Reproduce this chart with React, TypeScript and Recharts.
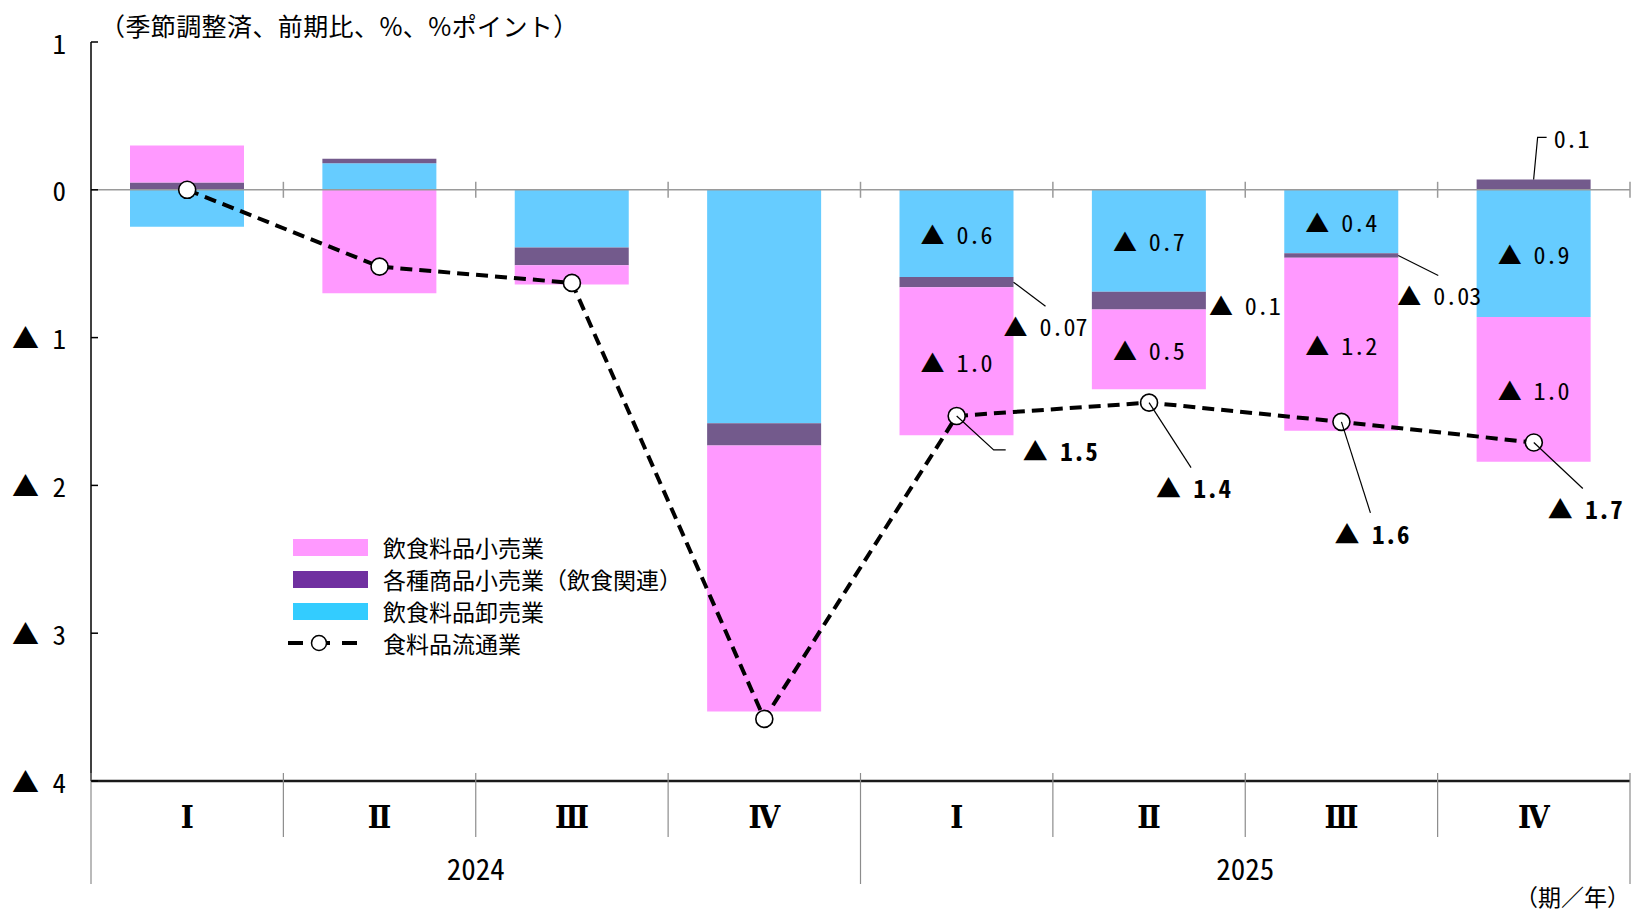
import React from "react";
import {
  Bar,
  ComposedChart,
  LabelList,
  Legend,
  Line,
  ReferenceLine,
  XAxis,
  YAxis,
} from "recharts";

// quarterly contributions, % points (negative = ▲)
const quarters = ["Ⅰ", "Ⅱ", "Ⅲ", "Ⅳ", "Ⅰ", "Ⅱ", "Ⅲ", "Ⅳ"];
const years = ["2024", "2024", "2024", "2024", "2025", "2025", "2025", "2025"];
const wholesale = [-0.25, 0.18, -0.39, -1.58, -0.59, -0.69, -0.43, -0.86];
const generalStores = [0.05, 0.03, -0.12, -0.15, -0.07, -0.12, -0.03, 0.07];
const retail = [0.25, -0.7, -0.13, -1.8, -1.0, -0.54, -1.17, -0.98];
const foodDistribution = [0.0, -0.52, -0.63, -3.58, -1.53, -1.44, -1.57, -1.71];
const generalDigits = [1, 1, 1, 1, 2, 1, 2, 1];
const yTicks = [1, 0, -1, -2, -3, -4];

const seriesNames = {
  retail: "飲食料品小売業",
  general: "各種商品小売業（飲食関連）",
  wholesale: "飲食料品卸売業",
  total: "食料品流通業",
};
const unitNote = "（季節調整済、前期比、%、%ポイント）";
const periodNote = "（期／年）";

// only the 2025 quarters carry value labels
const FIRST_LABELLED = 4;

const CHART_W = 1636;
const CHART_H = 915;
const AXIS_W = 91;
const AXIS_H = 134;
const MARGIN = { top: 42, right: 6, bottom: 0, left: 0 };
const BAND = (CHART_W - AXIS_W - MARGIN.right) / quarters.length;

const SANS = "'Noto Sans CJK JP', sans-serif";
const MONO = "'Noto Sans Mono CJK JP', 'Noto Sans CJK JP', monospace";
const ROMAN = "'DejaVu Serif Condensed', 'DejaVu Serif', serif";

const COLORS = {
  retail: "#FF99FF",
  general: "#735A8C",
  wholesale: "#66CCFF",
};
const LEGEND_COLORS = {
  retail: "#FF99FF",
  general: "#7030A0",
  wholesale: "#33CCFF",
};

const rows = quarters.map((q, i) => ({
  key: `${years[i]}-${q}`,
  wholesale: wholesale[i],
  general: generalStores[i],
  retail: retail[i],
  total: foodDistribution[i],
}));

type Pt = [number, number];
type Callout = { from?: "side" | "top"; path: Pt[]; text: Pt };

const generalCallouts: Record<number, Callout> = {
  4: { from: "side", path: [[0, 0], [32, 24]], text: [-10, 43] },
  5: { from: "side", path: [], text: [3, 4] },
  6: { from: "side", path: [[0, 0], [40, 20]], text: [-1, 39] },
  7: { from: "top", path: [[0, 0], [4, -42], [13, -42]], text: [20, -42] },
};

const totalCallouts: Record<number, Callout> = {
  4: { path: [[0, 0], [37, 34], [49, 34]], text: [66, 34] },
  5: { path: [[0, 0], [42, 65]], text: [7, 84] },
  6: { path: [[0, 0], [29, 91]], text: [-7, 111] },
  7: { path: [[0, 0], [49, 46]], text: [14, 65] },
};

function fmt(v: number, digits: number) {
  const s = Math.abs(v).toFixed(digits);
  return v < 0 ? `▲ ${s}` : s;
}

function boxOf(props: any) {
  const vb = props.viewBox ?? props;
  const x = Number(vb.x ?? props.x);
  const y = Number(vb.y ?? props.y);
  const w = Number(vb.width ?? props.width ?? 0);
  const h = Number(vb.height ?? props.height ?? 0);
  return { x, w, top: Math.min(y, y + h), bottom: Math.max(y, y + h) };
}

function leader(ax: number, ay: number, path: Pt[]) {
  if (path.length < 2) return null;
  const pts = path.map(([dx, dy]) => `${ax + dx},${ay + dy}`).join(" ");
  return <polyline points={pts} fill="none" stroke="#000" strokeWidth={1.2} />;
}

function CenteredLabel(props: any) {
  if (props.index < FIRST_LABELLED) return null;
  const b = boxOf(props);
  return (
    <text
      x={b.x + b.w / 2}
      y={(b.top + b.bottom) / 2}
      textAnchor="middle"
      dominantBaseline="central"
      fontFamily={MONO}
      fontSize={24}
      fill="#000"
    >
      {fmt(Number(props.value), 1)}
    </text>
  );
}

function GeneralLabel(props: any) {
  const c = generalCallouts[props.index];
  if (!c) return null;
  const b = boxOf(props);
  const ax = c.from === "top" ? b.x + b.w / 2 : b.x + b.w;
  const ay = c.from === "top" ? b.top : (b.top + b.bottom) / 2;
  return (
    <g>
      {leader(ax, ay, c.path)}
      <text
        x={ax + c.text[0]}
        y={ay + c.text[1]}
        dominantBaseline="central"
        fontFamily={MONO}
        fontSize={24}
        fill="#000"
      >
        {fmt(Number(props.value), generalDigits[props.index])}
      </text>
    </g>
  );
}

function TotalLabel(props: any) {
  const c = totalCallouts[props.index];
  if (!c) return null;
  const b = boxOf(props);
  return (
    <g>
      {leader(b.x, b.top, c.path)}
      <text
        x={b.x + c.text[0]}
        y={b.top + c.text[1]}
        dominantBaseline="central"
        fontFamily={MONO}
        fontSize={25}
        fontWeight={700}
        fill="#000"
      >
        {fmt(Number(props.value), 1)}
      </text>
    </g>
  );
}

// open circle marker, solid outline even though the line is dashed
function OpenDot(props: any) {
  const { cx, cy } = props;
  if (cx == null || cy == null) return null;
  return <circle cx={cx} cy={cy} r={8.5} fill="#fff" stroke="#000" strokeWidth={1.6} />;
}

function YTick(props: any) {
  const { x, y, payload } = props;
  const v = Number(payload.value);
  return (
    <g>
      <line x1={x + 26} x2={x + 33} y1={y} y2={y} stroke="#000" strokeWidth={1.5} />
      <text
        x={x + 1}
        y={y}
        textAnchor="end"
        dominantBaseline="central"
        fontFamily={MONO}
        fontSize={27}
        fill="#000"
      >
        {v < 0 ? `▲ ${Math.abs(v)}` : String(v)}
      </text>
    </g>
  );
}

function QuarterTick(props: any) {
  const { x, y, index } = props;
  const left = x - BAND / 2;
  const right = x + BAND / 2;
  const isYearStart = index % 4 === 0;
  const isLast = index === quarters.length - 1;
  return (
    <g>
      <line
        x1={left}
        x2={left}
        y1={y - 8}
        y2={isYearStart ? y + 103 : y + 56}
        stroke="#8c8c8c"
        strokeWidth={1.2}
      />
      {isLast && (
        <line x1={right} x2={right} y1={y - 8} y2={y + 103} stroke="#8c8c8c" strokeWidth={1.2} />
      )}
      <text
        x={x}
        y={y + 36}
        textAnchor="middle"
        dominantBaseline="central"
        fontFamily={ROMAN}
        fontWeight={700}
        fontSize={31}
        fill="#000"
      >
        {quarters[index]}
      </text>
      {index % 4 === 1 && (
        <text
          x={right}
          y={y + 86}
          textAnchor="middle"
          dominantBaseline="central"
          fontFamily={MONO}
          fontSize={29}
          fill="#000"
        >
          {years[index]}
        </text>
      )}
    </g>
  );
}

function ZeroLine(props: any) {
  const { x1, x2, y1 } = props;
  const marks = quarters.map((_, i) => x1 + ((i + 1) * (x2 - x1)) / quarters.length);
  return (
    <g>
      <line x1={x1} x2={x2} y1={y1} y2={y1} stroke="#9a9a9a" strokeWidth={1.5} />
      {marks.map((mx) => (
        <line key={mx} x1={mx} x2={mx} y1={y1 - 8} y2={y1 + 8} stroke="#9a9a9a" strokeWidth={1.5} />
      ))}
    </g>
  );
}

function UnitTitle(props: any) {
  const vb = props.viewBox;
  return (
    <text
      x={vb.x + vb.width + 9}
      y={vb.y - 17}
      dominantBaseline="central"
      fontFamily={SANS}
      fontSize={25}
      letterSpacing={0.4}
      fill="#000"
    >
      {unitNote}
    </text>
  );
}

function PeriodNote(props: any) {
  const vb = props.viewBox;
  return (
    <text
      x={vb.x + vb.width}
      y={vb.y + 115}
      textAnchor="end"
      dominantBaseline="central"
      fontFamily={SANS}
      fontSize={23}
      fill="#000"
    >
      {periodNote}
    </text>
  );
}

// full-width brackets get a full em cell, as in the printed legend
function WideBrackets({ text }: { text: string }) {
  const parts = text.split(/([（）])/).filter(Boolean);
  return (
    <>
      {parts.map((part, i) =>
        part === "（" || part === "）" ? (
          <span
            key={i}
            style={{
              display: "inline-block",
              width: "1em",
              textAlign: part === "（" ? "right" : "left",
            }}
          >
            {part}
          </span>
        ) : (
          <span key={i}>{part}</span>
        ),
      )}
    </>
  );
}

function LegendBox() {
  const items = [
    { name: seriesNames.retail, color: LEGEND_COLORS.retail },
    { name: seriesNames.general, color: LEGEND_COLORS.general },
    { name: seriesNames.wholesale, color: LEGEND_COLORS.wholesale },
  ];
  const row = { display: "flex", alignItems: "center", height: 32 } as const;
  return (
    <div style={{ fontFamily: SANS, fontSize: 23, color: "#000", lineHeight: 1 }}>
      {items.map((item) => (
        <div key={item.name} style={row}>
          <span style={{ width: 75, height: 17, marginLeft: 6, background: item.color }} />
          <span style={{ marginLeft: 15, whiteSpace: "nowrap" }}>
            <WideBrackets text={item.name} />
          </span>
        </div>
      ))}
      <div style={row}>
        <svg width={81} height={20}>
          <line x1={1} x2={72} y1={10} y2={10} stroke="#000" strokeWidth={4} strokeDasharray="15 12" />
          <circle cx={32} cy={10} r={7.5} fill="#fff" stroke="#000" strokeWidth={1.5} />
        </svg>
        <span style={{ marginLeft: 15 }}>{seriesNames.total}</span>
      </div>
    </div>
  );
}

export default function App() {
  return (
    <div style={{ position: "absolute", left: 0, top: 0, background: "#fff" }}>
      <ComposedChart
        width={CHART_W}
        height={CHART_H}
        data={rows}
        margin={MARGIN}
        stackOffset="sign"
        barSize={114}
      >
        <XAxis
          dataKey="key"
          height={AXIS_H}
          interval={0}
          tickSize={0}
          tickMargin={0}
          tickLine={false}
          axisLine={{ stroke: "#1a1a1a", strokeWidth: 2.5 }}
          tick={<QuarterTick />}
          label={<PeriodNote />}
        />
        <YAxis
          type="number"
          width={AXIS_W}
          domain={[-4, 1]}
          ticks={yTicks}
          interval={0}
          tickSize={0}
          tickMargin={26}
          tickLine={false}
          axisLine={{ stroke: "#000", strokeWidth: 1.5 }}
          tick={<YTick />}
          label={<UnitTitle />}
        />
        <ReferenceLine y={0} shape={(p: any) => <ZeroLine {...p} />} />
        <Bar dataKey="wholesale" stackId="s" fill={COLORS.wholesale} isAnimationActive={false}>
          <LabelList dataKey="wholesale" content={<CenteredLabel />} />
        </Bar>
        <Bar dataKey="general" stackId="s" fill={COLORS.general} isAnimationActive={false}>
          <LabelList dataKey="general" content={<GeneralLabel />} />
        </Bar>
        <Bar dataKey="retail" stackId="s" fill={COLORS.retail} isAnimationActive={false}>
          <LabelList dataKey="retail" content={<CenteredLabel />} />
        </Bar>
        <Line
          dataKey="total"
          stroke="#000"
          strokeWidth={4}
          strokeDasharray="12 7"
          dot={<OpenDot />}
          activeDot={false}
          isAnimationActive={false}
        >
          <LabelList dataKey="total" content={<TotalLabel />} />
        </Line>
        <Legend
          layout="vertical"
          align="center"
          verticalAlign="middle"
          content={<LegendBox />}
          wrapperStyle={{ left: 287, top: 531, width: 460 }}
        />
      </ComposedChart>
    </div>
  );
}
